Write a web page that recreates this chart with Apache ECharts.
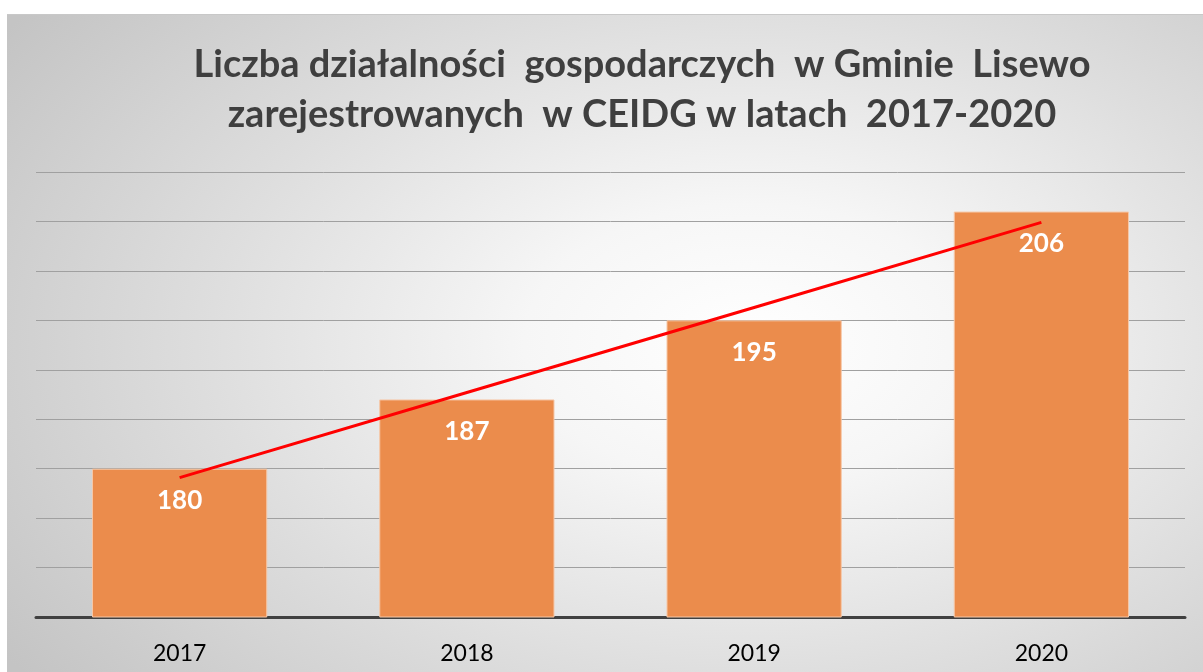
<!DOCTYPE html>
<html>
<head>
<meta charset="utf-8">
<script src="https://cdn.jsdelivr.net/npm/echarts@6/dist/echarts.min.js"></script>
<style>
  html, body { margin: 0; padding: 0; background: #fff; }
  #panel {
    position: absolute; left: 7px; top: 14px; width: 1196px; height: 658px;
    border-top: 1px solid #c8c8c8;
    box-sizing: border-box;
    background: radial-gradient(ellipse 75% 85% at 62% 50%, #ffffff 0%, #f6f6f6 25%, #dedede 60%, #c4c4c4 100%);
  }
  #chart { width: 1196px; height: 657px; }
</style>
</head>
<body>
<div id="panel"><div id="chart"></div></div>
<script>
// lata i liczba firm
const years = ['2017', '2018', '2019', '2020'];
const firms = [180, 187, 195, 206];
// linia trendu
const trend = [179.1, 187.7, 196.3, 204.9];

const chart = echarts.init(document.getElementById('chart'));

const option = {
    title: {
        text: 'Liczba działalności  gospodarczych  w Gminie  Lisewo\nzarejestrowanych  w CEIDG w latach  2017-2020',
        left: 630,
        top: 20,
        textAlign: 'center',
        textStyle: {
            fontFamily: 'Lato',
            fontWeight: 'bold',
            fontSize: 38,
            lineHeight: 50,
            color: '#3f3f3f'
        }
    },
    grid: {
        left: 29,
        right: 18,
        top: 157,
        bottom: 55
    },
    xAxis: {
        type: 'category',
        data: years,
        axisTick: { show: false },
        axisLine: { lineStyle: { color: '#404040', width: 3 } },
        axisLabel: {
            margin: 25,
            fontFamily: 'Lato',
            fontSize: 23,
            color: '#000'
        }
    },
    yAxis: {
        type: 'value',
        min: 165,
        max: 210,
        interval: 5,
        axisLabel: { show: false },
        axisLine: { show: false },
        axisTick: { show: false },
        splitLine: { lineStyle: { color: '#a0a0a0', width: 1 } }
    },
    series: [
        {
            name: 'Liczba',
            type: 'bar',
            data: firms,
            barCategoryGap: '39%',
            itemStyle: {
                color: '#eb8c4c',
                borderColor: '#f6c7a6',
                borderWidth: 1
            },
            label: {
                show: true,
                position: 'insideTop',
                distance: 19,
                fontFamily: 'Lato',
                fontWeight: 'bold',
                fontSize: 26,
                color: '#fff'
            },
            z: 2
        },
        {
            name: 'Trend',
            type: 'line',
            data: trend,
            showSymbol: false,
            symbol: 'none',
            lineStyle: { color: '#ff0000', width: 3 },
            z: 3
        }
    ]
};

chart.setOption(option);
</script>
</body>
</html>
